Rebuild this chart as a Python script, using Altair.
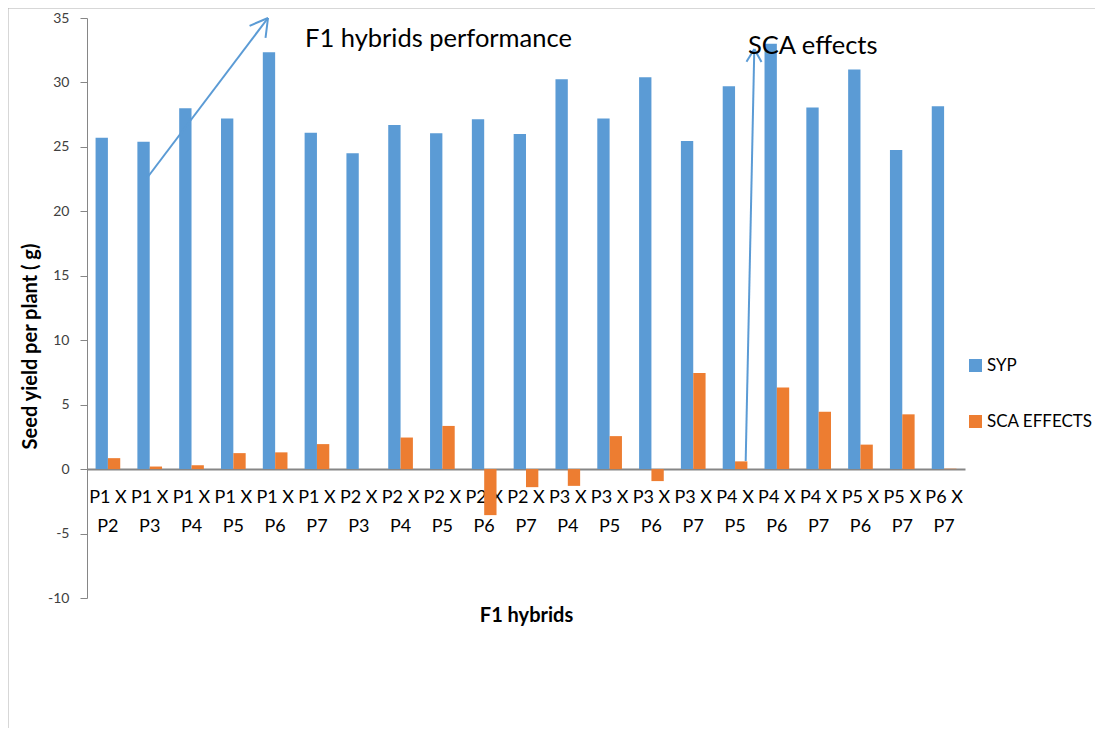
import altair as alt
import pandas as pd

crosses = ["P1 X P2", "P1 X P3", "P1 X P4", "P1 X P5", "P1 X P6", "P1 X P7",
           "P2 X P3", "P2 X P4", "P2 X P5", "P2 X P6", "P2 X P7",
           "P3 X P4", "P3 X P5", "P3 X P6", "P3 X P7",
           "P4 X P5", "P4 X P6", "P4 X P7",
           "P5 X P6", "P5 X P7", "P6 X P7"]
syp = [25.7, 25.4, 28.0, 27.2, 32.35, 26.1, 24.5, 26.7, 26.05, 27.15, 26.0,
       30.25, 27.2, 30.4, 25.45, 29.7, 33.0, 28.05, 31.0, 24.75, 28.15]
sca = [0.85, 0.2, 0.3, 1.24, 1.3, 1.94, 0.0, 2.45, 3.35, -3.57, -1.4,
       -1.3, 2.56, -0.93, 7.45, 0.6, 6.33, 4.45, 1.9, 4.25, 0.03]
traits = ["SYP", "SCA EFFECTS"]
colors = ["#5B9BD5", "#ED7D31"]
y_ticks = [-10, -5, 0, 5, 10, 15, 20, 25, 30, 35]

# annotation texts and arrows (pixel positions inside the plot area)
notes = ["F1 hybrids performance", "SCA effects"]
note_x = [218, 661]
note_y = [21, 28]
seg_x = [60, 181, 181, 181, 658.7, 667.3, 667.3]
seg_y = [160, 0, 0, 0, 443, 31, 31]
seg_x2 = [181, 162.6, 178.5, 181, 667.3, 659.5, 674.5]
seg_y2 = [0, 7.8, 19.9, 0, 31, 43.8, 44.1]

W, H = 878, 580

rows = []
for c, a, b in zip(crosses, syp, sca):
    rows.append({"Cross": c, "Trait": "SYP", "Value": a})
    rows.append({"Cross": c, "Trait": "SCA EFFECTS", "Value": b})
df = pd.DataFrame(rows)

bars = alt.Chart(df).mark_bar().encode(
    x=alt.X("Cross:N", sort=crosses,
            scale=alt.Scale(paddingInner=0.41, paddingOuter=0.205),
            axis=alt.Axis(orient="bottom", offset=-129, ticks=False,
                          domainColor="#868686", domainWidth=2,
                          labelAngle=0, labelFontSize=18, labelColor="#000000",
                          labelPadding=19, labelLineHeight=29, labelOverlap=False,
                          labelBound=False,
                          labelExpr="[substring(datum.label, 0, 4), substring(datum.label, 5)]",
                          title="F1 hybrids", titleFontSize=20, titleFontWeight="bold",
                          titleColor="#000000", titleY=146, titleBaseline="middle")),
    xOffset=alt.XOffset("Trait:N", sort=traits),
    y=alt.Y("Value:Q", scale=alt.Scale(domain=[-10, 35], nice=False, zero=False),
            axis=alt.Axis(values=y_ticks, grid=False, domainColor="#868686",
                          tickColor="#868686", tickSize=7, labelPadding=11,
                          labelFontSize=14, labelColor="#404040",
                          labelExpr="'' + datum.value",
                          title="Seed yield per plant ( g)", titleFontSize=20,
                          titleFontWeight="bold", titleColor="#000000",
                          titleX=-57, titleY=328, titleAngle=270,
                          titleAlign="center", titleBaseline="middle")),
    color=alt.Color("Trait:N", sort=traits,
                    scale=alt.Scale(domain=traits, range=colors),
                    legend=alt.Legend(orient="none", legendX=880, legendY=339,
                                      title=None, symbolType="square", symbolSize=169,
                                      symbolStrokeWidth=0, labelFontSize=17,
                                      labelColor="#000000", rowPadding=38,
                                      labelOffset=3, padding=0)),
)

seg_df = pd.DataFrame({"x": seg_x, "y": seg_y, "x2": seg_x2, "y2": seg_y2})
arrows = alt.Chart(seg_df).mark_rule(color="#5B9BD5", strokeWidth=2).encode(
    x=alt.X("x:Q", scale=None, axis=None),
    y=alt.Y("y:Q", scale=None, axis=None),
    x2="x2:Q",
    y2="y2:Q",
)

note_df = pd.DataFrame({"t": notes, "x": note_x, "y": note_y})
texts = alt.Chart(note_df).mark_text(align="left", baseline="middle",
                                     fontSize=25.5, color="#000000").encode(
    x=alt.X("x:Q", scale=None, axis=None),
    y=alt.Y("y:Q", scale=None, axis=None),
    text="t:N",
)

border_df = pd.DataFrame({"x": [-79, -79], "y": [-10, -10], "x2": [1010, -79], "y2": [-10, 720]})
border = alt.Chart(border_df).mark_rule(color="#B0B0B0", strokeWidth=1).encode(
    x=alt.X("x:Q", scale=None, axis=None),
    y=alt.Y("y:Q", scale=None, axis=None),
    x2="x2:Q",
    y2="y2:Q",
)

chart = alt.layer(border, bars, arrows, texts).resolve_scale(
    x="independent", y="independent"
).properties(
    width=W, height=H,
    autosize=alt.AutoSizeParams(type="none"),
    padding={"left": 79, "top": 10, "right": 130, "bottom": 130},
).configure(font="Lato").configure_view(stroke=None)

chart.save("out.html", embed_options={"renderer": "svg", "actions": False})
